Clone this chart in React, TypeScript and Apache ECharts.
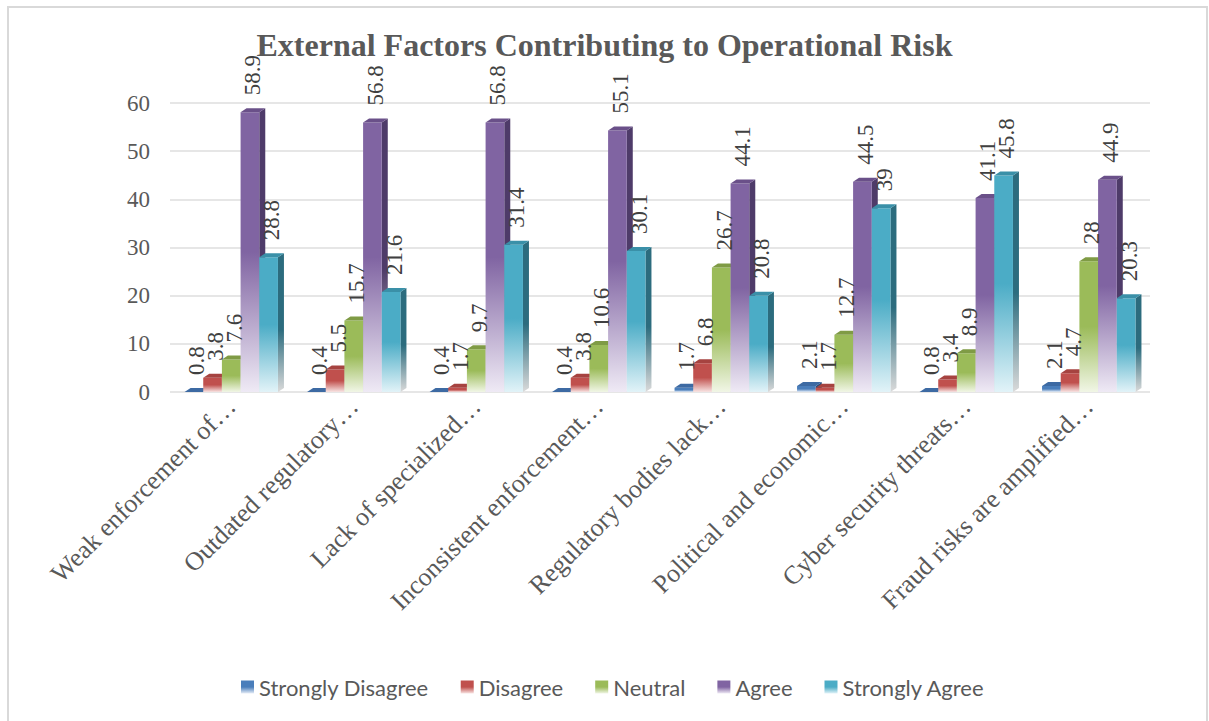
import React, { useEffect, useRef } from "react";
import * as echarts from "echarts";

const categories = [
  "Weak enforcement of…",
  "Outdated regulatory…",
  "Lack of specialized…",
  "Inconsistent enforcement…",
  "Regulatory bodies lack…",
  "Political and economic…",
  "Cyber security threats…",
  "Fraud risks are amplified…",
];
const seriesNames = ["Strongly Disagree", "Disagree", "Neutral", "Agree", "Strongly Agree"];
const stronglyDisagree = [0.8, 0.4, 0.4, 0.4, 1.7, 2.1, 0.8, 2.1];
const disagree = [3.8, 5.5, 1.7, 3.8, 6.8, 1.7, 3.4, 4.7];
const neutral = [7.6, 15.7, 9.7, 10.6, 26.7, 12.7, 8.9, 28];
const agree = [58.9, 56.8, 56.8, 55.1, 44.1, 44.5, 41.1, 44.9];
const stronglyAgree = [28.8, 21.6, 31.4, 30.1, 20.8, 39, 45.8, 20.3];
const yTicks = { min: 0, max: 60, interval: 10 };

const seriesValues = [stronglyDisagree, disagree, neutral, agree, stronglyAgree];
const palette = [
  { front: "#4a7ebb", pale: "#e6edf7", top: "#3d6aa3", side: "#2b4e7c" },
  { front: "#c0504d", pale: "#f8e4e3", top: "#a64340", side: "#853330" },
  { front: "#9bbb59", pale: "#f1f6e6", top: "#7f9b45", side: "#687f3a" },
  { front: "#8064a2", pale: "#efeaf5", top: "#6a5089", side: "#4e3b69" },
  { front: "#4bacc6", pale: "#e2f3f8", top: "#3a90a8", side: "#2c6c7e" },
];

const SERIF = "'Liberation Serif', 'Times New Roman', serif";

function frontGradient(c: any) {
  return new echarts.graphic.LinearGradient(0, 0, 0, 1, [
    { offset: 0, color: c.front },
    { offset: 0.5, color: c.front },
    { offset: 1, color: c.pale },
  ]);
}
function sideGradient(c: any) {
  return new echarts.graphic.LinearGradient(0, 0, 0, 1, [
    { offset: 0, color: c.side },
    { offset: 0.55, color: c.side },
    { offset: 1, color: "#dadada" },
  ]);
}

export default function App() {
  const ref = useRef<HTMLDivElement>(null);
  useEffect(() => {
    const chart = echarts.init(ref.current!, null, { renderer: "svg" });
    const series = seriesNames.map((name, si) => {
      const c = palette[si];
      return {
        name,
        type: "custom",
        itemStyle: { color: frontGradient(c) },
        encode: { x: 0, y: 1 },
        data: seriesValues[si].map((v, i) => [i, v]),
        renderItem: (params: any, api: any) => {
          const ci = api.value(0);
          const v = api.value(1);
          const p = api.coord([ci, v]);
          const p0 = api.coord([ci, 0]);
          const band = api.size([1, 0])[0];
          const bw = band * 0.1525;
          const dx = 6;
          const dy = 4;
          const cx = p[0];
          const yv = p[1];
          const y0 = p0[1];
          const x0 = cx - 2.5 * bw + si * bw;
          const ft = Math.min(yv + dy, y0);
          const children: any[] = [];
          children.push({
            type: "polygon",
            shape: {
              points: [
                [x0 + bw, ft],
                [x0 + bw + dx, ft - dy],
                [x0 + bw + dx, y0 - dy],
                [x0 + bw, y0],
              ],
            },
            style: { fill: sideGradient(c) },
          });
          if (y0 - ft > 0.1) {
            children.push({
              type: "rect",
              shape: { x: x0, y: ft, width: bw, height: y0 - ft },
              style: { fill: frontGradient(c) },
            });
          }
          children.push({
            type: "polygon",
            shape: {
              points: [
                [x0, ft],
                [x0 + bw, ft],
                [x0 + bw + dx, ft - dy],
                [x0 + dx, ft - dy],
              ],
            },
            style: { fill: c.top },
          });
          children.push({
            type: "text",
            x: x0 + bw / 2 + dx / 2,
            y: ft - dy - 13,
            rotation: Math.PI / 2,
            z2: 10,
            style: {
              text: String(v),
              x: 0,
              y: 0,
              align: "left",
              verticalAlign: "middle",
              font: "normal 23px " + SERIF,
              fill: "#404040",
            },
          });
          return { type: "group", children };
        },
      };
    });

    chart.setOption({
      animation: false,
      backgroundColor: "#ffffff",
      textStyle: { fontFamily: SERIF },
      title: {
        text: "External Factors Contributing to Operational Risk",
        left: "center",
        top: 29,
        padding: 0,
        textStyle: { fontFamily: SERIF, fontSize: 32, fontWeight: "bold", color: "#595959" },
      },
      graphic: [
        {
          type: "rect",
          shape: { x: 8, y: 7, width: 1199, height: 730 },
          style: { fill: "none", stroke: "#d9d9d9", lineWidth: 2 },
          silent: true,
        },
      ],
      legend: {
        data: seriesNames,
        top: 671,
        left: 236,
        icon: "rect",
        itemWidth: 13,
        itemHeight: 13,
        itemGap: 32,
        textStyle: { fontFamily: "Lato", fontSize: 22, color: "#595959" },
      },
      grid: { left: 170, right: 59, top: 103, bottom: 329 },
      xAxis: {
        type: "category",
        data: categories,
        axisLine: { show: false },
        axisTick: { show: false },
        axisLabel: {
          interval: 0,
          rotate: 45,
          margin: 10,
          fontFamily: SERIF,
          fontSize: 26,
          color: "#595959",
        },
      },
      yAxis: {
        type: "value",
        min: yTicks.min,
        max: yTicks.max,
        interval: yTicks.interval,
        axisLine: { show: false },
        axisTick: { show: false },
        axisLabel: { margin: 20, fontFamily: SERIF, fontSize: 23, color: "#595959" },
        splitLine: { lineStyle: { color: "#e6e6e6", width: 2 } },
      },
      series,
    });
    return () => chart.dispose();
  }, []);
  return (
    <div
      ref={ref}
      style={{ position: "fixed", left: 0, top: 0, width: 1209, height: 721 }}
    />
  );
}
